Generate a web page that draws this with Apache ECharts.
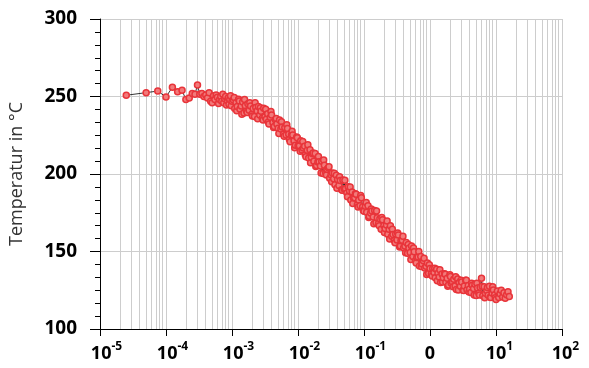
<!DOCTYPE html>
<html>
<head>
<meta charset="utf-8">
<script src="https://cdn.jsdelivr.net/npm/echarts@6/dist/echarts.min.js"></script>
<style>
  html, body { margin: 0; padding: 0; background: #fff; }
  #chart { width: 589px; height: 368px; }
</style>
</head>
<body>
<div id="chart"></div>
<script>
// time in s (log axis) vs temperature in °C
const earlyPts = [
    [2.5e-5,250.8],[5e-5,252.5],[7.5e-5,253.5],[1e-4,249.7],[1.25e-4,256],[1.5e-4,253],[1.75e-4,254],
    [2e-4,248],[2.25e-4,249],[2.5e-4,252],[2.75e-4,251.5],[3e-4,257.4],[3.25e-4,251.5],[3.5e-4,252],
    [3.75e-4,250],[4e-4,251],[4.25e-4,249],[4.5e-4,252.5],[4.75e-4,247],[5e-4,246],[5.25e-4,250.5],
    [5.5e-4,248],[5.75e-4,251],[6e-4,249.5],[6.25e-4,245.5],[6.5e-4,248],[6.75e-4,250],[7e-4,247],
    [7.25e-4,251.5],[7.5e-4,246],[7.75e-4,248.5],[8e-4,250],[8.25e-4,244.5],[8.5e-4,247.5],
    [8.75e-4,249],[9e-4,245],[9.25e-4,248],[9.5e-4,250.5],[9.75e-4,244],[1e-3,247]
];
const decadeA = [
    [1.05e-3,247.7],[1.1e-3,242.3],[1.15e-3,246.0],[1.2e-3,243.6],[1.26e-3,248.3],[1.32e-3,242.0],[1.38e-3,243.8],[1.45e-3,246.5],[1.52e-3,239.3],[1.59e-3,244.0],
    [1.66e-3,240.7],[1.74e-3,245.4],[1.82e-3,241.1],[1.91e-3,243.8],[2e-3,238.5],[2.09e-3,242.3],[2.19e-3,237.1],[2.29e-3,242.9],[2.4e-3,240.7],[2.51e-3,243.5],
    [2.63e-3,238.0],[2.75e-3,240.5],[2.88e-3,236.0],[3.02e-3,242.5],[3.16e-3,237.0],[3.31e-3,235.4],[3.47e-3,238.8],[3.63e-3,232.2],[3.8e-3,236.6],[3.98e-3,238.0],
    [4.17e-3,233.3],[4.37e-3,230.6],[4.57e-3,234.9],[4.79e-3,232.2],[5.01e-3,229.5],[5.25e-3,234.8],[5.5e-3,229.1],[5.75e-3,230.4],[6.03e-3,225.7],[6.31e-3,230.0],
    [6.61e-3,225.2],[6.92e-3,229.4],[7.24e-3,225.6],[7.59e-3,220.8],[7.94e-3,225.0],[8.32e-3,225.2],[8.71e-3,221.4],[9.12e-3,218.6],[9.55e-3,223.8],[1e-2,218.0]
];
const decadeA2 = [
    [1.08e-3,249.4],[1.18e-3,240.8],[1.29e-3,247.1],[1.41e-3,238.6],[1.55e-3,248.1],[1.7e-3,239.6],[1.86e-3,245.9],[2.04e-3,237.4],[2.24e-3,246.0],[2.45e-3,235.6],
    [2.69e-3,242.8],[2.95e-3,234.8],[3.24e-3,241.7],[3.55e-3,233.5],[3.89e-3,240.3],[4.27e-3,230.0],[4.68e-3,235.8],[5.13e-3,226.2],[5.62e-3,233.7],[6.17e-3,224.4],
    [6.76e-3,231.8],[7.41e-3,222.2],[8.13e-3,227.6],[8.91e-3,217.0],[9.77e-3,223.4]
];
const decadeB = [
    [1.05e-2,218.2],[1.1e-2,221.4],[1.15e-2,215.5],[1.2e-2,216.7],[1.26e-2,217.9],[1.32e-2,211.1],[1.38e-2,215.3],[1.45e-2,210.4],[1.52e-2,215.6],[1.59e-2,210.8],
    [1.66e-2,213.0],[1.74e-2,208.2],[1.82e-2,213.3],[1.91e-2,205.5],[2e-2,207.7],[2.09e-2,207.9],[2.19e-2,205.1],[2.29e-2,208.2],[2.4e-2,200.4],[2.51e-2,205.6],
    [2.63e-2,200.8],[2.75e-2,203.0],[2.88e-2,204.1],[3.02e-2,197.3],[3.16e-2,199.5],[3.31e-2,200.7],[3.47e-2,196.9],[3.63e-2,193.0],[3.8e-2,199.2],[3.98e-2,196.4],
    [4.17e-2,192.6],[4.37e-2,195.8],[4.57e-2,189.9],[4.79e-2,196.1],[5.01e-2,190.3],[5.25e-2,190.5],[5.5e-2,187.7],[5.75e-2,191.8],[6.03e-2,189.0],[6.31e-2,183.2],
    [6.61e-2,188.4],[6.92e-2,184.6],[7.24e-2,184.7],[7.59e-2,186.9],[7.94e-2,180.1],[8.32e-2,183.3],[8.71e-2,179.5],[9.12e-2,184.6],[9.55e-2,178.8],[1e-1,176.0]
];
const decadeB2 = [
    [1.08e-2,214.6],[1.18e-2,221.0],[1.29e-2,212.4],[1.41e-2,218.9],[1.55e-2,207.2],[1.7e-2,213.6],[1.86e-2,204.9],[2.04e-2,211.3],[2.24e-2,200.7],[2.45e-2,209.1],
    [2.69e-2,199.4],[2.95e-2,204.7],[3.24e-2,195.0],[3.55e-2,200.5],[3.89e-2,190.8],[4.27e-2,198.2],[4.68e-2,189.5],[5.13e-2,195.9],[5.62e-2,185.3],[6.17e-2,191.6],
    [6.76e-2,181.0],[7.41e-2,187.3],[8.13e-2,178.7],[8.91e-2,186.1],[9.77e-2,176.4]
];
const decadeC = [
    [0.105,179.2],[0.11,175.4],[0.115,179.5],[0.12,172.7],[0.126,174.9],[0.132,176.1],[0.138,172.3],[0.145,176.4],[0.152,168.6],[0.159,171.8],
    [0.166,168.0],[0.174,171.2],[0.182,164.3],[0.191,170.5],[0.2,166.7],[0.209,164.9],[0.219,167.1],[0.229,161.2],[0.24,164.4],[0.251,166.6],
    [0.263,159.8],[0.275,161.0],[0.288,157.1],[0.302,161.3],[0.316,157.5],[0.331,160.7],[0.347,152.9],[0.363,157.0],[0.38,157.2],[0.398,152.4],
    [0.417,153.6],[0.437,155.8],[0.457,148.9],[0.479,152.1],[0.501,149.3],[0.525,153.5],[0.55,146.7],[0.575,149.8],[0.603,144.0],[0.631,146.2],
    [0.661,146.4],[0.692,140.6],[0.724,146.7],[0.759,141.9],[0.794,144.1],[0.832,139.3],[0.871,140.5],[0.912,142.6],[0.955,135.8],[1,139.0]
];
const decadeC2 = [
    [0.108,181.6],[0.118,172.0],[0.129,177.4],[0.141,167.9],[0.155,176.2],[0.17,166.6],[0.186,171.9],[0.204,162.3],[0.224,169.7],[0.245,158.1],
    [0.269,164.4],[0.295,155.7],[0.324,162.0],[0.355,153.5],[0.389,159.8],[0.427,149.2],[0.468,154.5],[0.513,144.9],[0.562,152.3],[0.617,142.6],
    [0.676,150.0],[0.741,140.3],[0.813,145.7],[0.891,135.1],[0.977,141.4]
];
const decadeD = [
    [1.05,135.5],[1.1,139.0],[1.15,136.5],[1.2,133.0],[1.26,138.5],[1.32,136.0],[1.38,133.5],[1.45,130.0],[1.52,135.5],[1.59,133.0],
    [1.66,135.6],[1.74,130.2],[1.82,132.8],[1.91,128.4],[2,135.0],[2.09,129.7],[2.19,130.4],[2.29,132.1],[2.4,127.8],[2.51,125.5],
    [2.63,132.2],[2.75,129.9],[2.88,127.6],[3.02,130.3],[3.16,125.0],[3.31,127.8],[3.47,131.5],[3.63,125.3],[3.8,128.0],[3.98,125.8],
    [4.17,123.6],[4.37,128.3],[4.57,126.1],[4.79,128.8],[5.01,121.6],[5.25,126.4],[5.5,123.1],[5.75,126.9],[6.03,132.7],[6.31,121.5],
    [6.61,127.3],[6.92,123.1],[7.24,124.9],[7.59,121.7],[7.94,127.6],[8.32,120.4],[8.71,123.3],[9.12,125.2],[9.55,122.1],[10,119.0]
];
const decadeD2 = [
    [1.08,134.2],[1.18,139.2],[1.29,131.2],[1.41,138.3],[1.55,130.3],[1.7,135.4],[1.86,127.6],[2.04,133.9],[2.24,127.3],[2.45,133.7],
    [2.69,125.1],[2.95,131.5],[3.24,124.9],[3.55,131.4],[3.89,123.9],[4.27,129.5],[4.68,122.0],[5.13,129.5],[5.62,122.0],[6.17,127.6],
    [6.76,120.2],[7.41,126.8],[8.13,120.5],[8.91,127.3],[9.77,120.1]
];
const decadeE = [
    [10.5,124.5],[11,120.3],[11.5,122.8],[12,125.0],[12.6,120.6],[13.2,123.4],[13.8,119.8],[14.5,122.1],[15.2,124.0],[15.9,120.9]
];

const xTickLabels = ['10^-5', '10^-4', '10^-3', '10^-2', '10^-1', '0', '10^1', '10^2'];
const yTicks = [100, 150, 200, 250, 300];

const allPts = [].concat(earlyPts, decadeA, decadeA2, decadeB, decadeB2, decadeC, decadeC2, decadeD, decadeD2, decadeE)
    .sort((a, b) => a[0] - b[0]);

// minor vertical grid lines 2..9 in every decade, placed on a hidden log10 axis
const minorLog = [];
for (let d = -5; d < 2; d++) {
    for (let m = 2; m <= 9; m++) minorLog.push(d + Math.log10(m));
}

const FONT = 'Open Sans';
const GRID_COLOR = '#cdcdcd';

const chart = echarts.init(document.getElementById('chart'));
chart.setOption({
    animation: false,
    grid: { left: 100, right: 27, top: 19, bottom: 39, containLabel: false, outerBoundsMode: 'none' },
    xAxis: [{
        type: 'log',
        logBase: 10,
        min: 1e-5,
        max: 100,
        axisLine: { onZero: false, lineStyle: { color: '#000', width: 1 } },
        axisTick: { show: true, length: 7, lineStyle: { color: '#000' } },
        splitLine: { show: true, lineStyle: { color: GRID_COLOR, width: 1 } },
        axisLabel: {
            margin: 12,
            formatter: function (v) {
                const lab = xTickLabels[Math.round(Math.log10(v)) + 5];
                if (!lab) return '';
                if (lab.indexOf('^') < 0) return '{b|' + lab + '}';
                const parts = lab.split('^');
                const pad = parts[1].length > 1 ? 'p2' : 'p1';
                return '{' + pad + '|}{b|' + parts[0] + '}{s|' + parts[1] + '}';
            },
            rich: {
                b: { fontSize: 18, fontWeight: 'bold', fontFamily: FONT, color: '#000', lineHeight: 22, verticalAlign: 'bottom' },
                s: { fontSize: 12, fontWeight: 'bold', fontFamily: FONT, color: '#000', lineHeight: 12, verticalAlign: 'top' },
                p1: { width: 7 },
                p2: { width: 13 }
            }
        }
    }, {
        type: 'value',
        min: -5,
        max: 2,
        show: false,
        axisLine: { onZero: false }
    }],
    yAxis: {
        type: 'value',
        min: yTicks[0],
        max: yTicks[yTicks.length - 1],
        interval: 50,
        name: 'Temperatur in °C',
        nameLocation: 'middle',
        nameGap: 74,
        nameTextStyle: { fontSize: 18, fontFamily: FONT, color: '#333' },
        axisLine: { show: true, onZero: false, lineStyle: { color: '#000', width: 1 } },
        axisTick: { show: true, length: 10, lineStyle: { color: '#000' } },
        minorTick: { show: true, splitNumber: 6, length: 5, lineStyle: { color: '#000' } },
        splitLine: { show: true, lineStyle: { color: GRID_COLOR, width: 1 } },
        axisLabel: { margin: 23, fontSize: 19, fontWeight: 'bold', fontFamily: FONT, color: '#000' }
    },
    series: [
        {
            type: 'line',
            xAxisIndex: 1,
            data: [[-5, 100]],
            showSymbol: false,
            lineStyle: { width: 0 },
            z: 1,
            silent: true,
            markLine: {
                z: 1,
                silent: true,
                symbol: ['none', 'none'],
                label: { show: false },
                lineStyle: { color: GRID_COLOR, type: 'solid', width: 1 },
                data: minorLog.map(v => ({ xAxis: v }))
            }
        },
        {
            type: 'line',
            data: allPts,
            z: 3,
            symbol: 'circle',
            symbolSize: 6,
            showSymbol: true,
            showAllSymbol: true,
            lineStyle: { color: '#000', width: 0.8 },
            itemStyle: { color: '#f27a7a', borderColor: '#e8343a', borderWidth: 1.5 }
        }
    ]
});
</script>
</body>
</html>
